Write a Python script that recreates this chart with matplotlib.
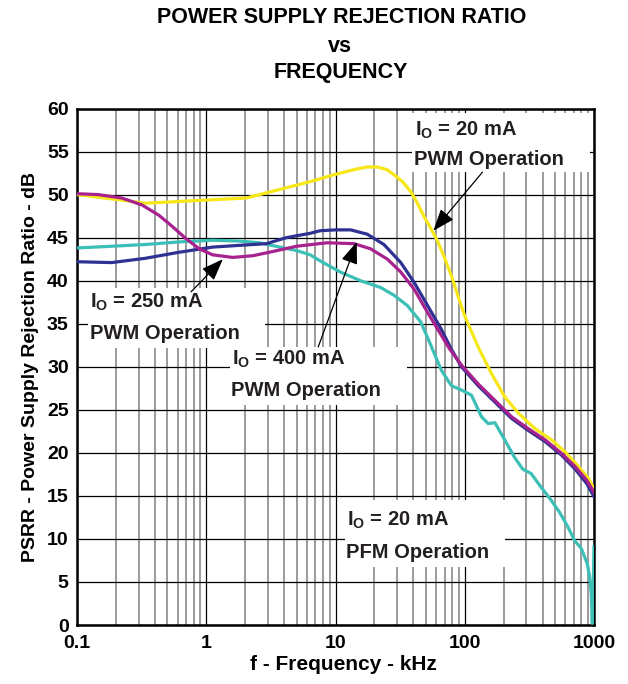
import matplotlib
matplotlib.use("Agg")
import matplotlib.pyplot as plt
from matplotlib.patches import Rectangle
from matplotlib.ticker import FixedLocator, NullFormatter

plt.rcParams['font.family'] = ['Liberation Sans', 'DejaVu Sans']
plt.rcParams['font.weight'] = 'bold'
plt.rcParams['mathtext.fontset'] = 'custom'
plt.rcParams['mathtext.rm'] = 'Liberation Sans:bold'
plt.rcParams['mathtext.it'] = 'Liberation Sans:bold'
plt.rcParams['mathtext.bf'] = 'Liberation Sans:bold'

# frequency in kHz, PSRR in dB
f_pwm20 = [0.1, 0.186, 0.338, 0.616, 1.12, 2.04, 2.92, 4.18, 6.37, 9.7, 13.9, 17.5, 21.1,
           25.0, 28.4, 33.0, 38.4, 43.0, 48.6, 55.0, 61.6, 70.0, 80, 90, 100, 127, 161,
           204, 260, 350, 471, 599, 760, 910, 1000]
db_pwm20 = [50.0, 49.5, 49.0, 49.2, 49.4, 49.6, 50.2, 50.8, 51.5, 52.3, 52.9, 53.2, 53.2,
            52.9, 52.3, 51.5, 50.3, 49.0, 47.4, 46.0, 44.6, 42.6, 40.3, 37.9, 35.9, 32.3,
            29.2, 26.5, 24.6, 22.8, 21.5, 20.1, 18.4, 17.0, 15.8]

f_magenta = [0.1, 0.146, 0.222, 0.318, 0.43, 0.546, 0.694, 0.883, 1.12, 1.6, 2.3, 3.3,
             5.0, 8.6, 13.9, 18.7, 25.2, 32.0, 40.6, 51.6, 65.6, 76.1, 94.2, 127, 171,
             230, 310, 419, 564, 715, 881, 1000]
db_magenta = [50.1, 50.0, 49.6, 48.8, 47.6, 46.3, 44.9, 43.7, 43.0, 42.7, 42.9, 43.4,
              44.0, 44.4, 44.3, 43.7, 42.5, 41.0, 39.0, 36.3, 33.7, 32.1, 30.2, 28.0,
              26.1, 24.2, 22.8, 21.5, 19.9, 18.4, 16.8, 15.4]

f_blue = [0.1, 0.186, 0.338, 0.616, 1.12, 1.8, 2.92, 4.18, 6.37, 7.6, 10.0, 13.1, 17.6,
          23.7, 32.0, 40.6, 51.6, 65.6, 78.4, 94.2, 127, 171, 230, 310, 419, 564, 715,
          881, 1000]
db_blue = [42.2, 42.1, 42.6, 43.3, 43.9, 44.1, 44.3, 45.0, 45.5, 45.8, 45.9, 45.9, 45.4,
           44.2, 42.1, 39.8, 37.1, 34.4, 32.1, 30.0, 27.8, 25.9, 24.0, 22.6, 21.3, 19.7,
           18.1, 16.4, 14.9]

f_pfm20 = [0.1, 0.186, 0.338, 0.616, 1.12, 1.8, 2.59, 3.7, 5.0, 6.37, 7.6, 10.9, 15.6,
           22.4, 28.4, 36.0, 45.7, 55, 65.9, 78.8, 94.2, 112.7, 134.7, 151.8, 171, 204,
           242, 281, 326, 390, 466, 541, 628, 708, 797, 888, 925, 953, 970, 985, 1000]
db_pfm20 = [43.8, 44.0, 44.2, 44.5, 44.7, 44.6, 44.4, 43.9, 43.5, 43.0, 42.3, 41.0, 40.0,
            39.2, 38.3, 37.1, 35.2, 32.4, 29.6, 27.8, 27.3, 26.7, 24.2, 23.4, 23.5, 21.5,
            19.5, 18.1, 17.6, 16.0, 14.5, 13.1, 11.4, 9.8, 8.9, 7.1, 5.6, 3.6, 0.2, 4.0,
            9.1]

yticks = list(range(0, 65, 5))
xticks = [0.1, 1, 10, 100, 1000]
xticklabels = ['0.1', '1', '10', '100', '1000']

W, H = 628, 684
L, R, T, B = 77, 594, 108.5, 625

fig = plt.figure(figsize=(W / 100, H / 100), dpi=100)
ax = fig.add_axes([L / W, 1 - B / H, (R - L) / W, (B - T) / H])

ax.plot(f_pfm20, db_pfm20, color='#3bbfb6', lw=2.3, zorder=3)
ax.plot(f_pwm20, db_pwm20, color='#f7e718', lw=2.3, zorder=3)
ax.plot(f_blue, db_blue, color='#2e3192', lw=2.3, zorder=3)
ax.plot(f_magenta, db_magenta, color='#a8228f', lw=2.3, zorder=3)

ax.set_xscale('log')
ax.set_xlim(0.1, 1000)
ax.set_ylim(0, 60)
ax.set_yticks(yticks)
ax.xaxis.set_major_locator(FixedLocator(xticks))
ax.set_xticklabels(xticklabels)
minors = [m * 10.0 ** e for e in range(-1, 3) for m in range(2, 10)]
ax.xaxis.set_minor_locator(FixedLocator(minors))
ax.xaxis.set_minor_formatter(NullFormatter())

ax.set_axisbelow(True)
ax.grid(True, which='major', axis='both', color='black', lw=0.9)
ax.grid(True, which='minor', axis='x', color='#808080', lw=1.1)
ax.tick_params(which='both', length=0, labelsize=14)
ax.tick_params(axis='y', pad=6)
ax.tick_params(axis='x', pad=7)
for s in ax.spines.values():
    s.set_linewidth(1.8)

ax.set_xlabel('f - Frequency - kHz', fontsize=15, fontweight='bold')
ax.xaxis.set_label_coords((343 - L) / (R - L), -0.058)
ax.set_ylabel('PSRR - Power Supply Rejection Ratio - dB', fontsize=14,
              fontweight='bold', labelpad=6)

fig.text(342 / W, 1 - 22.7 / H, 'POWER SUPPLY REJECTION RATIO', ha='center',
         va='baseline', fontsize=15.5, fontweight='bold')
fig.text(340 / W, 1 - 51.7 / H, 'vs', ha='center', va='baseline', fontsize=15.5,
         fontweight='bold')
fig.text(341 / W, 1 - 78.3 / H, 'FREQUENCY', ha='center', va='baseline', fontsize=15.5,
         fontweight='bold')


def px2ax(x, y):
    return (x - L) / (R - L), (B - y) / (B - T)


def label(box, lines):
    x0, y0, x1, y1 = box
    ax0, ay1 = px2ax(x0, y0)
    ax1, ay0 = px2ax(x1, y1)
    ax.add_patch(Rectangle((ax0, ay0), ax1 - ax0, ay1 - ay0, transform=ax.transAxes,
                           facecolor='white', edgecolor='none', zorder=1.5))
    for x, y, s in lines:
        tx, ty = px2ax(x, y)
        ax.text(tx, ty, s, transform=ax.transAxes, ha='left', va='baseline',
                fontsize=14.5, fontweight='bold', color='#231f20', zorder=4)


label((412, 113, 590, 172), [(415, 136, r'I$_\mathrm{O}$ = 20 mA'),
                             (414, 165, 'PWM Operation')])
label((88, 288, 265, 348), [(90, 307.5, r'I$_\mathrm{O}$ = 250 mA'),
                            (90, 339, 'PWM Operation')])
label((230, 347, 407, 405), [(232, 365, r'I$_\mathrm{O}$ = 400 mA'),
                             (231, 396.5, 'PWM Operation')])
label((345, 500, 505, 567), [(347, 526, r'I$_\mathrm{O}$ = 20 mA'),
                             (346, 558, 'PFM Operation')])

arrow = dict(arrowstyle='-|>,head_length=0.9,head_width=0.34', color='black', lw=0.9,
             shrinkA=0, shrinkB=0, mutation_scale=15)
ax.annotate('', xy=(57.2, 45.8), xytext=(137, 52.6), arrowprops=arrow, zorder=5)
ax.annotate('', xy=(1.345, 42.5), xytext=(0.763, 38.7), arrowprops=arrow, zorder=5)
ax.annotate('', xy=(14.6, 44.5), xytext=(7.35, 32.3), arrowprops=arrow, zorder=5)

fig.savefig('out.png', dpi=100)
